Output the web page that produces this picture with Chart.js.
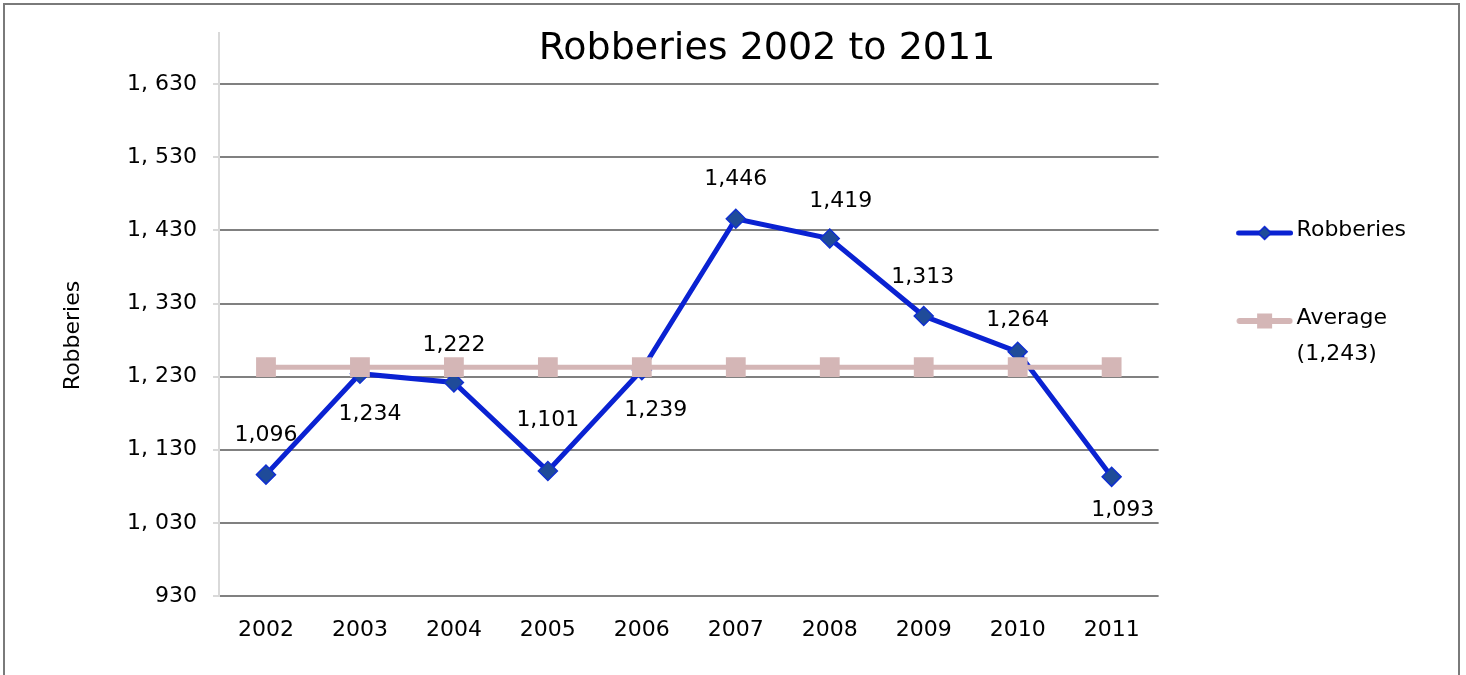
<!DOCTYPE html>
<html>
<head>
<meta charset="utf-8">
<script src="https://cdn.jsdelivr.net/npm/chart.js@4.4.1/dist/chart.umd.min.js"></script>
<style>
  html, body { margin: 0; padding: 0; background: #ffffff; }
  #frame { position: absolute; left: 3px; top: 3px; width: 1457px; height: 720px; border: 2px solid #7a7a7a; box-sizing: border-box; }
  #wrap { position: absolute; left: 0; top: 0; width: 1466px; height: 675px; }
</style>
</head>
<body>
<div id="frame"></div>
<div id="wrap"><canvas id="c" width="1466" height="675"></canvas></div>
<script>
// ---- data ----
const years = ['2002', '2003', '2004', '2005', '2006', '2007', '2008', '2009', '2010', '2011'];
const robberies = [1096, 1234, 1222, 1101, 1239, 1446, 1419, 1313, 1264, 1093];
const averageValue = 1243;
const averageSeries = [1243, 1243, 1243, 1243, 1243, 1243, 1243, 1243, 1243, 1243];
const yTickValues = [930, 1030, 1130, 1230, 1330, 1430, 1530, 1630];
const yTickLabels = ['930', '1, 030', '1, 130', '1, 230', '1, 330', '1, 430', '1, 530', '1, 630'];
const seriesNames = ['Robberies', 'Average (1,243)'];
const chartTitle = 'Robberies 2002 to 2011';
const yAxisTitle = 'Robberies';

const FONT = 'DejaVu Sans';
const BLUE = '#0a22d2';
const DIAMOND_FILL = '#1f4b99';
const PINK = '#d4b6b6';

Chart.defaults.font.family = FONT;
Chart.defaults.color = '#000000';

// label placement around each Robberies point (dx, dy in px)
const labelPlacement = [
  { dx: 0, dy: -39 }, { dx: 10, dy: 41 }, { dx: 0, dy: -37 }, { dx: 0, dy: -51 }, { dx: 14, dy: 40 },
  { dx: 0, dy: -39 }, { dx: 11, dy: -37 }, { dx: -1, dy: -39 }, { dx: 0, dy: -32 }, { dx: 11, dy: 33 }
];

// legend icons (line + marker)
function makeIcon(kind) {
  const W = 76, H = 26;
  const cv = document.createElement('canvas');
  cv.width = W; cv.height = H;
  const g = cv.getContext('2d');
  const cx = W / 2 + 9.5, cy = H / 2 + 3;
  g.lineCap = 'round';
  if (kind === 0) {
    g.strokeStyle = BLUE; g.lineWidth = 5;
    g.beginPath(); g.moveTo(cx - 26, cy); g.lineTo(cx + 26, cy); g.stroke();
    g.beginPath();
    g.moveTo(cx, cy - 6.5); g.lineTo(cx + 6.5, cy); g.lineTo(cx, cy + 6.5); g.lineTo(cx - 6.5, cy); g.closePath();
    g.fillStyle = DIAMOND_FILL; g.fill();
    g.lineWidth = 1.5; g.strokeStyle = BLUE; g.stroke();
  } else {
    g.strokeStyle = PINK; g.lineWidth = 6;
    g.beginPath(); g.moveTo(cx - 25, cy); g.lineTo(cx + 25, cy); g.stroke();
    g.fillStyle = PINK; g.fillRect(cx - 7.5, cy - 7.5, 15, 15);
  }
  return cv;
}
const legendIcons = [makeIcon(0), makeIcon(1)];

const dataLabelPlugin = {
  id: 'pointValueLabels',
  afterDatasetsDraw(chart) {
    const ctx = chart.ctx;
    const meta = chart.getDatasetMeta(0);
    ctx.save();
    ctx.font = '22px "' + FONT + '"';
    ctx.fillStyle = '#000000';
    ctx.textAlign = 'center';
    ctx.textBaseline = 'middle';
    meta.data.forEach((pt, i) => {
      const p = labelPlacement[i];
      ctx.fillText(robberies[i].toLocaleString('en-US'), pt.x + p.dx, pt.y + p.dy);
    });
    ctx.restore();
  }
};

new Chart(document.getElementById('c'), {
  type: 'line',
  data: {
    labels: years,
    datasets: [
      {
        label: seriesNames[0],
        data: robberies,
        borderColor: BLUE,
        borderWidth: 5,
        tension: 0,
        pointStyle: 'rectRot',
        pointRadius: 9.5,
        pointHoverRadius: 9.5,
        pointBackgroundColor: DIAMOND_FILL,
        pointBorderColor: '#1030d0',
        pointBorderWidth: 1.5,
        order: 1
      },
      {
        label: seriesNames[1],
        data: averageSeries,
        borderColor: PINK,
        borderWidth: 5,
        tension: 0,
        pointStyle: 'rect',
        pointRadius: 14,
        pointHoverRadius: 14,
        pointBackgroundColor: PINK,
        pointBorderColor: PINK,
        pointBorderWidth: 0,
        order: 0
      }
    ]
  },
  options: {
    responsive: false,
    animation: false,
    devicePixelRatio: 1,
    layout: { padding: { left: 118, right: 50, top: 0, bottom: 10.6 } },
    plugins: {
      tooltip: { enabled: false },
      title: {
        display: true,
        text: chartTitle,
        color: '#000000',
        font: { size: 38, weight: 'normal', lineHeight: 1.2 },
        padding: { top: 26.2, bottom: -38.8 }
      },
      legend: {
        position: 'right',
        align: 'start',
        title: { display: true, text: ' ', padding: { top: 126.6, bottom: 0 }, font: { size: 22, lineHeight: 1.2 } },
        labels: {
          usePointStyle: true,
          pointStyleWidth: 61,
          padding: 66,
          color: '#000000',
          font: { size: 22, lineHeight: 1.65 },
          generateLabels(chart) {
            return chart.data.datasets.map((ds, i) => {
              const k = ds.label.indexOf(' (');
              return {
                text: k > 0 ? [ds.label.slice(0, k), ds.label.slice(k + 1)] : ds.label,
                pointStyle: legendIcons[i],
                fillStyle: ds.borderColor,
                strokeStyle: ds.borderColor,
                lineWidth: 0,
                hidden: false,
                datasetIndex: i
              };
            });
          }
        }
      }
    },
    scales: {
      x: {
        offset: true,
        grid: { display: false, drawTicks: false, offset: true },
        border: { display: false },
        ticks: { color: '#000000', font: { size: 22 }, padding: 21 }
      },
      y: {
        min: 930,
        max: 1700,
        afterBuildTicks(scale) { scale.ticks = yTickValues.map(v => ({ value: v })); },
        afterFit(scale) { scale.width = 101; },
        ticks: {
          color: '#000000',
          font: { size: 22 },
          padding: 16,
          callback: (v) => yTickLabels[yTickValues.indexOf(v)]
        },
        grid: { color: '#808080', lineWidth: 2, tickLength: 6, tickColor: '#d9d9d9' },
        border: { color: '#d9d9d9', width: 2 },
        title: {
          display: true,
          text: yAxisTitle + '\u00a0'.repeat(6),
          color: '#000000',
          font: { size: 22, lineHeight: 1.2 },
          padding: { top: -58, bottom: 0 }
        }
      }
    }
  },
  plugins: [dataLabelPlugin]
});
</script>
</body>
</html>
